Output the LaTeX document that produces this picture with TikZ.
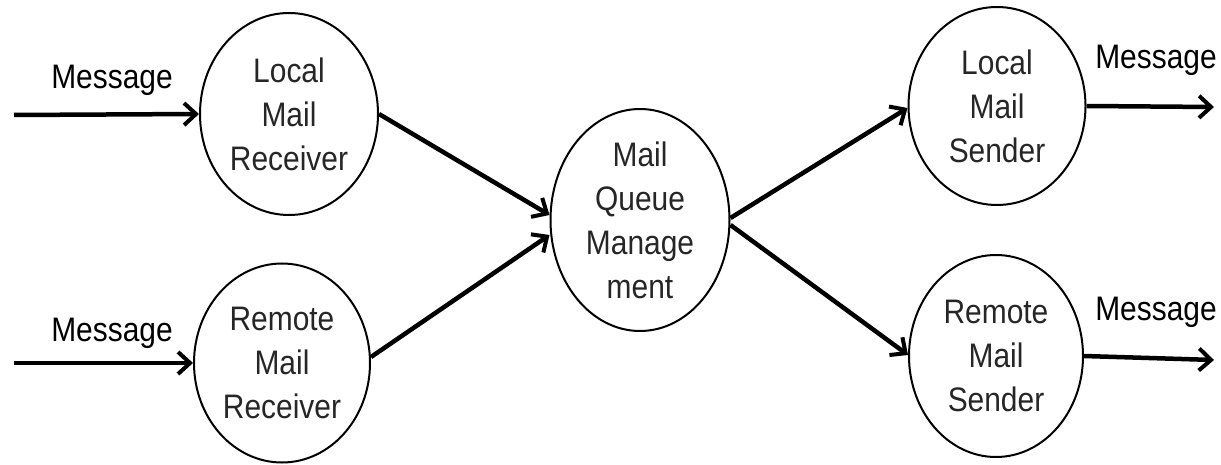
\documentclass[tikz,border=0pt]{standalone}
\usepackage{fontspec}
\setmainfont[FakeStretch=0.88]{Liberation Sans}
\usetikzlibrary{shapes.geometric,arrows.meta,calc}
\begin{document}
\begin{tikzpicture}[x=1pt,y=-1pt,
  proc/.style={ellipse,draw,line width=2pt,inner sep=0pt,align=center,
    font=\fontsize{34}{44}\selectfont,text=black!85},
  flow/.style={line width=4.5pt,-{Straight Barb[length=12pt,width=22pt,line width=4pt]}},
  lbl/.style={font=\fontsize{34}{40}\selectfont,inner sep=0pt}]
\useasboundingbox (0,0) rectangle (1221,465);
\node[proc,minimum width=178pt,minimum height=202pt] (lmr) at (289,114) {Local\\Mail\\Receiver};
\node[proc,minimum width=176pt,minimum height=199pt] (rmr) at (282,363) {Remote\\Mail\\Receiver};
\node[proc,minimum width=179pt,minimum height=205pt] (mqm) at (640,220) {Mail\\Queue\\Manage\\ment};
\node[proc,minimum width=177pt,minimum height=198pt] (lms) at (997,106) {Local\\Mail\\Sender};
\node[proc,minimum width=174pt,minimum height=202pt] (rms) at (996,356) {Remote\\Mail\\Sender};
\coordinate (in1) at (14,115);
\coordinate (in2) at (14,363);
\coordinate (out1) at (1214,107);
\coordinate (out2) at (1214,360);
\draw[flow] (in1) -- (lmr.west);
\draw[flow] (in2) -- (rmr.west);
\draw[flow] (lmr.east) -- ($(mqm.west)+(0,-5)$);
\draw[flow] ($(rmr.east)+(0,-6)$) -- ($(mqm.west)+(0,15)$);
\draw[flow] ($(mqm.east)+(0,-2)$) -- ($(lms.west)+(0,2)$);
\draw[flow] ($(mqm.east)+(0,5)$) -- ($(rms.west)+(0,-1)$);
\draw[flow] (lms.east) -- (out1);
\draw[flow] (rms.east) -- (out2);
\node[lbl] (m1) at (112,80) {Message};
\node[lbl] (m2) at (112,333) {Message};
\node[lbl] (m3) at (1156,60) {Message};
\node[lbl] (m4) at (1156,312) {Message};
\end{tikzpicture}
\end{document}
